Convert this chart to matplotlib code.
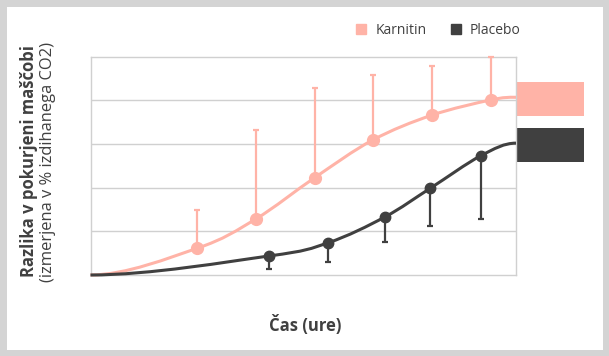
import numpy as np
import matplotlib.pyplot as plt
from matplotlib.path import Path
from matplotlib.patches import PathPatch, Rectangle
from matplotlib.lines import Line2D
import matplotlib.transforms as mtransforms

plt.rcParams['font.family'] = ['Open Sans', 'DejaVu Sans']

# ---------------- data (x in % of time axis, y in grid units) ----------------
x_karnitin = [25.0, 38.8, 52.7, 66.3, 80.2, 94.1]
y_karnitin = [0.61, 1.28, 2.23, 3.09, 3.66, 4.01]
err_karnitin = [0.89, 2.05, 2.06, 1.50, 1.13, 0.99]   # upward only

x_placebo = [41.9, 55.9, 69.2, 79.9, 91.7]
y_placebo = [0.435, 0.74, 1.33, 1.99, 2.73]
err_placebo = [0.29, 0.44, 0.57, 0.87, 1.45]          # downward only

# start / end points of the smoothed lines
start_xy = (0.0, 0.0)
end_karnitin = (100.0, 4.07)
end_placebo = (100.0, 3.02)

labels = ['Karnitin', 'Placebo']
c_pink = '#FFB3A7'
c_dark = '#404040'
c_text = '#404040'
c_grid = '#D0D0D0'


def smooth_path(xs, ys, t=1/6):
    # Catmull-Rom style bezier through the points, flat at both ends
    pts = np.column_stack([xs, ys]).astype(float)
    verts = [pts[0]]
    codes = [Path.MOVETO]
    n = len(pts)
    for i in range(n - 1):
        p1 = pts[i]
        p2 = pts[i + 1]
        if i == 0:
            c1 = p1 + np.array([(p2[0] - p1[0]) / 3, 0.0])
        else:
            c1 = p1 + (p2 - pts[i - 1]) * t
        if i + 2 >= n:
            c2 = p2 - np.array([(p2[0] - p1[0]) / 3, 0.0])
        else:
            c2 = p2 - (pts[i + 2] - p1) * t
        verts += [c1, c2, p2]
        codes += [Path.CURVE4] * 3
    return Path(verts, codes)


fig = plt.figure(figsize=(6.09, 3.56), dpi=100)
fig.patch.set_facecolor('white')
fig.patch.set_edgecolor('#D4D4D4')
fig.patch.set_linewidth(8)

ax = fig.add_axes([90.5/609, 81/356, 425.5/609, 218.3/356])
ax.set_xlim(0, 100)
ax.set_ylim(0, 5)
ax.set_facecolor('white')
for s in ax.spines.values():
    s.set_color(c_grid)
    s.set_linewidth(1)
ax.set_yticks([1, 2, 3, 4])
ax.set_xticks([])
ax.tick_params(left=False, labelleft=False)
ax.grid(axis='y', color=c_grid, linewidth=1)
ax.set_axisbelow(True)

# smoothed lines
for xs, ys, end, col in [(x_karnitin, y_karnitin, end_karnitin, c_pink),
                         (x_placebo, y_placebo, end_placebo, c_dark)]:
    px = [start_xy[0]] + xs + [end[0]]
    py = [start_xy[1]] + ys + [end[1]]
    ax.add_patch(PathPatch(smooth_path(px, py), facecolor='none', edgecolor=col,
                           linewidth=2.2, zorder=3, clip_on=False))

# error bars
ax.errorbar(x_karnitin, y_karnitin, yerr=[np.zeros(len(err_karnitin)), err_karnitin],
            fmt='o', color=c_pink, markersize=8.5, elinewidth=1.6, capsize=2.5,
            capthick=1.6, zorder=4, clip_on=False)
ax.errorbar(x_placebo, y_placebo, yerr=[err_placebo, np.zeros(len(err_placebo))],
            fmt='o', color=c_dark, markersize=7.5, elinewidth=1.6, capsize=2.5,
            capthick=1.6, zorder=4, clip_on=False)

# boxes on the right edge (centred a touch below the line ends)
trans = mtransforms.blended_transform_factory(ax.transAxes, ax.transData)
box_w = 68 / 425.5
box_h = 0.77
for end, col in [(end_karnitin, c_pink), (end_placebo, c_dark)]:
    ax.add_patch(Rectangle((1.0, end[1] - 0.04 - box_h / 2), box_w, box_h, transform=trans,
                           facecolor=col, edgecolor='none', clip_on=False, zorder=2))

# legend
handles = [Line2D([], [], marker='s', linestyle='none', color=c_pink, markersize=7.5),
           Line2D([], [], marker='s', linestyle='none', color=c_dark, markersize=7.5)]
fig.legend(handles, labels, loc='center left', bbox_to_anchor=(342/609, 1 - 30.5/356),
           ncol=2, frameon=False, fontsize=10, labelcolor=c_text, handletextpad=0.5,
           columnspacing=1.6, handlelength=1.0)

# axis titles
fig.text(29.5/609, 1 - 161/356, 'Razlika v pokurjeni maščobi', rotation=90, ha='center',
         va='center', fontsize=12, fontweight='bold', color=c_text)
fig.text(48/609, 1 - 162/356, '(izmerjena v % izdihanega CO2)', rotation=90, ha='center',
         va='center', fontsize=11.9, color=c_text)
fig.text(305/609, 1 - 325/356, 'Čas (ure)', ha='center', va='center', fontsize=12,
         fontweight='bold', color=c_text)

fig.savefig('out.png', dpi=100, facecolor='white', edgecolor='#D4D4D4')
